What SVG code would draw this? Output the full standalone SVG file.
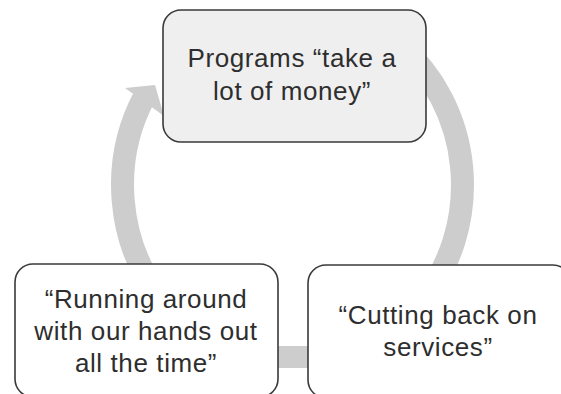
<svg xmlns="http://www.w3.org/2000/svg" width="561" height="394" viewBox="0 0 561 394">
<style>
.arc{fill:none;stroke:#cdcdcd;stroke-width:23}
.arrow{fill:#cdcdcd}
.box{stroke:#3a3a3a;stroke-width:1.6}
.lbl{font-family:"Liberation Sans",Arial,sans-serif;font-size:26px;letter-spacing:0.6px;fill:#2e2e2e;text-anchor:middle}
</style>
<rect width="561" height="394" fill="#ffffff"/>
<g id="connectors">
<path class="arc" d="M400,45.5 A170,180 0 0 1 423.2,300"/>
<path class="arc" d="M161.8,300 A170,180 0 0 1 145.3,95"/>
<polygon class="arrow" points="125,88 155,85 164,116"/>
<rect class="arrow" x="270" y="346" width="46" height="22"/>
</g>
<g id="node-top">
<rect class="box" x="163" y="10" width="263" height="132" rx="18" fill="#efefef"/>
<text class="lbl" x="292" y="67">Programs “take a</text>
<text class="lbl" x="292" y="100">lot of money”</text>
</g>
<g id="node-left">
<rect class="box" x="15" y="264" width="263" height="133" rx="18" fill="#ffffff"/>
<text class="lbl" x="146" y="308">“Running around</text>
<text class="lbl" x="146" y="340">with our hands out</text>
<text class="lbl" x="146" y="372">all the time”</text>
</g>
<g id="node-right">
<rect class="box" x="308" y="265" width="263" height="133" rx="18" fill="#ffffff"/>
<text class="lbl" x="438" y="324">“Cutting back on</text>
<text class="lbl" x="438" y="356">services”</text>
</g>
</svg>
